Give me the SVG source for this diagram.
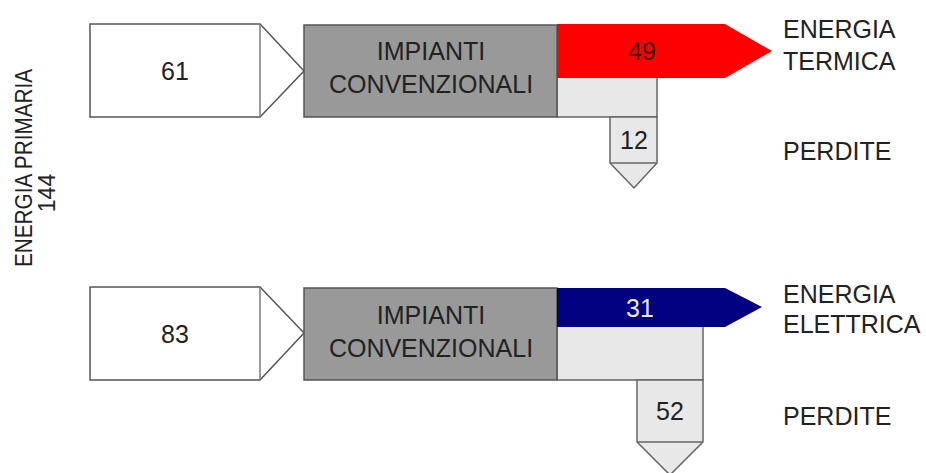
<svg xmlns="http://www.w3.org/2000/svg" width="926" height="473" viewBox="0 0 926 473">
<style>
text{font-family:"Liberation Sans",Arial,sans-serif;font-size:25px;fill:#222}
.c{text-anchor:middle}
.side{font-size:23px}
.in{fill:#fff;stroke:#555;stroke-width:1.5}
.sep{stroke:#999;stroke-width:2}
.box{fill:#999;stroke:#555;stroke-width:1.5}
.loss{fill:#e8e8e8;stroke:#666;stroke-width:1.5}
</style>
<rect width="926" height="473" fill="#fff"/>
<g id="primary-label">
<text class="c side" transform="translate(32,168) rotate(-90)" textLength="198" lengthAdjust="spacingAndGlyphs">ENERGIA PRIMARIA</text>
<text class="c side" transform="translate(55,193) rotate(-90)">144</text>
</g>
<g id="input-top">
<path class="in" d="M90,24H260L304,71L260,117H90Z"/>
<line class="sep" x1="260" y1="25" x2="260" y2="116"/>
<text class="c" x="175" y="80">61</text>
</g>
<g id="loss-band-top">
<rect class="loss" x="557" y="77" width="100" height="40"/>
</g>
<g id="loss-top">
<path class="loss" d="M610,117H657V163L634,188L610,163Z"/>
<line stroke="#666" stroke-width="1.5" x1="610" y1="163" x2="657" y2="163"/>
<text class="c" x="634" y="149">12</text>
</g>
<g id="plant-top">
<rect class="box" x="304" y="25" width="253" height="92"/>
<text class="c" x="431" y="60">IMPIANTI</text>
<text class="c" x="431" y="93">CONVENZIONALI</text>
</g>
<g id="out-thermal">
<path fill="#ff0000" d="M557,24H725L772,51L725,78H557Z"/>
<text class="c" x="642" y="60" style="fill:#3a0000">49</text>
</g>
<g id="label-thermal">
<text x="783" y="38">ENERGIA</text>
<text x="783" y="70">TERMICA</text>
</g>
<g id="label-loss-top">
<text x="783" y="160">PERDITE</text>
</g>
<g id="input-bottom">
<path class="in" d="M90,287H260L304,333L260,380H90Z"/>
<line class="sep" x1="260" y1="288" x2="260" y2="379"/>
<text class="c" x="175" y="343">83</text>
</g>
<g id="loss-band-bottom">
<rect class="loss" x="557" y="326" width="146" height="54"/>
</g>
<g id="loss-bottom">
<path class="loss" d="M637,380H703V442L670,475L637,442Z"/>
<line stroke="#666" stroke-width="1.5" x1="637" y1="442" x2="703" y2="442"/>
<text class="c" x="670" y="420">52</text>
</g>
<g id="plant-bottom">
<rect class="box" x="304" y="288" width="253" height="92"/>
<text class="c" x="431" y="324">IMPIANTI</text>
<text class="c" x="431" y="357">CONVENZIONALI</text>
</g>
<g id="out-electric">
<path fill="#000080" d="M557,288H725L762,307L725,327H557Z"/>
<text class="c" x="640" y="317" style="fill:#e8e8ff">31</text>
</g>
<g id="label-electric">
<text x="783" y="303">ENERGIA</text>
<text x="783" y="333">ELETTRICA</text>
</g>
<g id="label-loss-bottom">
<text x="783" y="425">PERDITE</text>
</g>
</svg>
